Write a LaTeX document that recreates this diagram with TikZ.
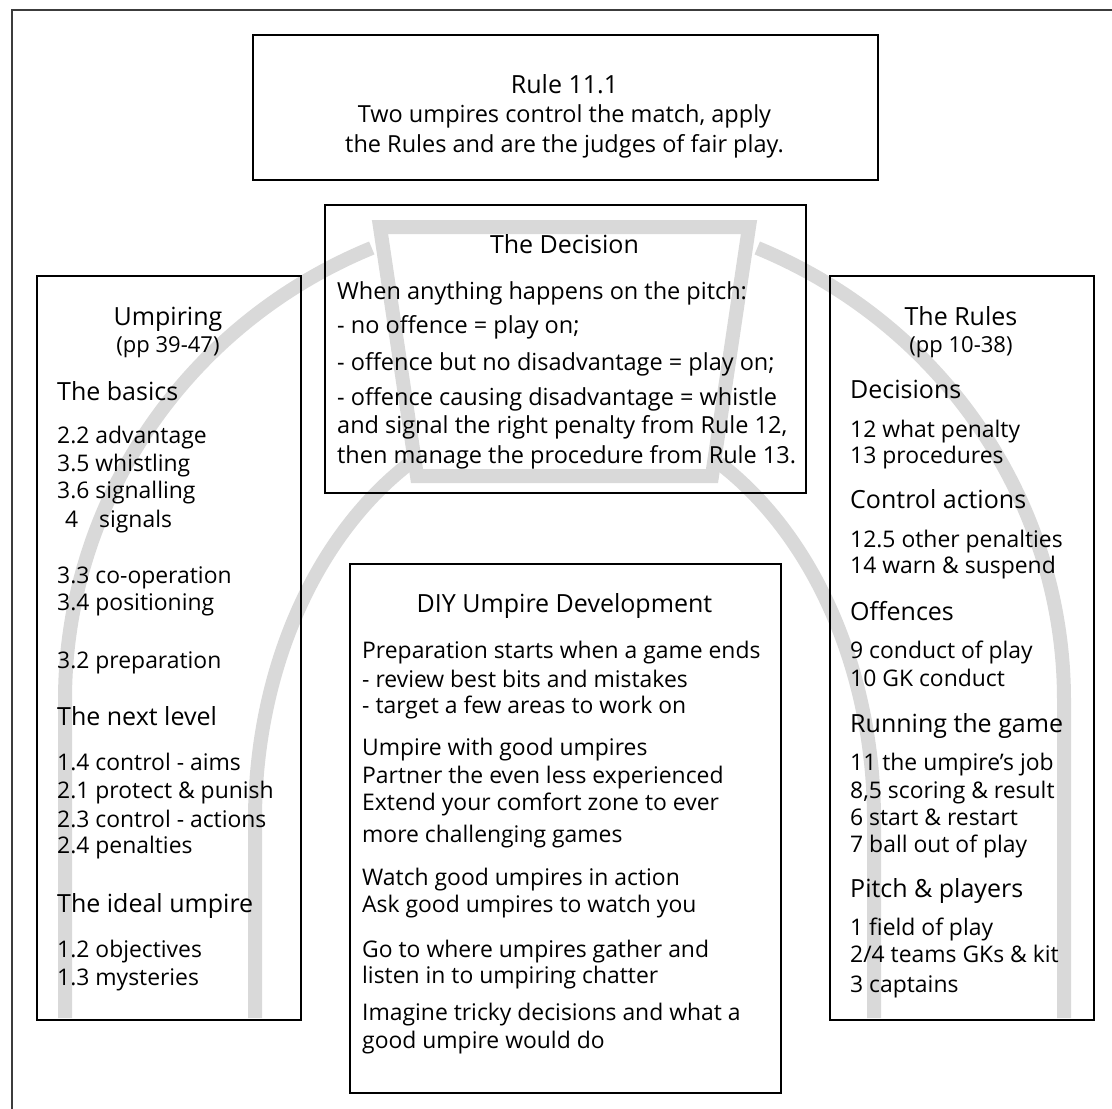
\documentclass[tikz,border=0pt]{standalone}
\usepackage{fontspec}
\setmainfont{Open Sans}
\definecolor{archgray}{RGB}{217,217,217}
\definecolor{framegray}{RGB}{60,60,60}
\newcommand\HeadF{\fontsize{25}{30}\selectfont}
\newcommand\BodyF{\fontsize{23.5}{28}\selectfont}
\newcommand\ItemF{\fontsize{22.9}{27}\selectfont}
\newcommand\PageF{\fontsize{22}{26}\selectfont}
\begin{document}
\begin{tikzpicture}[x=1pt,y=-1pt,
  box/.style={draw=black, line width=1.8pt, inner sep=0pt, anchor=north west},
  archline/.style={draw=archgray, line width=14pt},
  headc/.style={anchor=base, inner sep=0pt, font=\HeadF},
  headl/.style={anchor=base west, inner sep=0pt, font=\HeadF},
  bodyc/.style={anchor=base, inner sep=0pt, font=\BodyF},
  bodyl/.style={anchor=base west, inner sep=0pt, font=\BodyF},
  iteml/.style={anchor=base west, inner sep=0pt, font=\ItemF},
  pagec/.style={anchor=base, inner sep=0pt, font=\PageF}]
\useasboundingbox (0,0) rectangle (1112,1109);
% outer frame (cropped at right and bottom)
\coordinate (fbl) at (12,1109);
\coordinate (ftl) at (12,10);
\coordinate (ftr) at (1112,10);
\draw[framegray, line width=1.8pt] (fbl) -- (ftl) -- (ftr);
% the arch
\draw[archline] (65,1018) -- (65,700) arc[start angle=180, end angle=247.3, x radius=499.5, y radius=490];
\draw[archline] (1064,1018) -- (1064,700) arc[start angle=0, end angle=-67.3, x radius=499.5, y radius=490];
\draw[archline] (255,1018) -- (255,820) arc[start angle=180, end angle=240, x radius=309.5, y radius=412];
\draw[archline] (874,1018) -- (874,820) arc[start angle=0, end angle=-60, x radius=309.5, y radius=412];
\draw[archline, line join=miter] (380,227) -- (749,227) -- (712,476) -- (417,476) -- cycle;
% boxes
\node[box, minimum width=625pt, minimum height=145pt] (rule) at (252,34) {};
\node[box, minimum width=481pt, minimum height=288pt] (decision) at (324,204) {};
\node[box, minimum width=264pt, minimum height=744pt] (umpiring) at (36,275) {};
\node[box, minimum width=264pt, minimum height=744pt] (rules) at (829,275) {};
\node[box, minimum width=431pt, minimum height=529pt] (diy) at (349,563) {};
% Rule 11.1
\node[headc] (r1) at (564.5,93) {Rule 11.1};
\node[bodyc] (r2) at (564.5,122) {Two umpires control the match, apply};
\node[bodyc] (r3) at (564.5,152) {the Rules and are the judges of fair play.};
% The Decision
\node[headc] (d0) at (564.5,253) {The Decision};
\node[bodyl] (d1) at (337,299) {When anything happens on the pitch:};
\node[bodyl] (d2) at (337,333) {- no offence = play on;};
\node[bodyl] (d3) at (337,370) {- offence but no disadvantage = play on;};
\node[bodyl] (d4) at (337,405) {- offence causing disadvantage = whistle};
\node[bodyl] (d5) at (337,433) {and signal the right penalty from Rule 12,};
\node[bodyl] (d6) at (337,463) {then manage the procedure from Rule 13.};
% Umpiring
\node[headc] (u0) at (168,325) {Umpiring};
\node[pagec] (u0p) at (168,352) {(pp 39-47)};
\node[headl] (u1) at (57,400) {The basics};
\node[iteml] (u2) at (57,443) {2.2 advantage};
\node[iteml] (u3) at (57,471) {3.5 whistling};
\node[iteml] (u4) at (57,498) {3.6 signalling};
\node[iteml] (u5n) at (65,527) {4};
\node[iteml] (u5) at (99,527) {signals};
\node[iteml] (u6) at (57,583) {3.3 co-operation};
\node[iteml] (u7) at (57,610) {3.4 positioning};
\node[iteml] (u8) at (57,668) {3.2 preparation};
\node[headl] (u9) at (57,725) {The next level};
\node[iteml] (u10) at (57,770) {1.4 control - aims};
\node[iteml] (u11) at (57,798) {2.1 protect \& punish};
\node[iteml] (u12) at (57,827) {2.3 control - actions};
\node[iteml] (u13) at (57,853) {2.4 penalties};
\node[headl] (u14) at (57,912) {The ideal umpire};
\node[iteml] (u15) at (57,957) {1.2 objectives};
\node[iteml] (u16) at (57,985) {1.3 mysteries};
% The Rules
\node[headc] (q0) at (961,325) {The Rules};
\node[pagec] (q0p) at (961,352) {(pp 10-38)};
\node[headl] (q1) at (850,398) {Decisions};
\node[iteml] (q2) at (850,437) {12 what penalty};
\node[iteml] (q3) at (850,463) {13 procedures};
\node[headl] (q4) at (850,508) {Control actions};
\node[iteml] (q5) at (850,547) {12.5 other penalties};
\node[iteml] (q6) at (850,573) {14 warn \& suspend};
\node[headl] (q7) at (850,620) {Offences};
\node[iteml] (q8) at (850,658) {9 conduct of play};
\node[iteml] (q9) at (850,686) {10 GK conduct};
\node[headl] (q10) at (850,732) {Running the game};
\node[iteml] (q11) at (850,770) {11 the umpire’s job};
\node[iteml] (q12) at (850,798) {8,5 scoring \& result};
\node[iteml] (q13) at (850,825) {6 start \& restart};
\node[iteml] (q14) at (850,852) {7 ball out of play};
\node[headl] (q15) at (850,897) {Pitch \& players};
\node[iteml] (q16) at (850,935) {1 field of play};
\node[iteml] (q17) at (850,962) {2/4 teams GKs \& kit};
\node[iteml] (q18) at (850,992) {3 captains};
% DIY Umpire Development
\node[headc] (v0) at (564.5,612) {DIY Umpire Development};
\node[iteml] (v1) at (362,658) {Preparation starts when a game ends};
\node[iteml] (v2) at (362,687) {- review best bits and mistakes};
\node[iteml] (v3) at (362,713) {- target a few areas to work on};
\node[iteml] (v4) at (362,755) {Umpire with good umpires};
\node[iteml] (v5) at (362,783) {Partner the even less experienced};
\node[iteml] (v6) at (362,810) {Extend your comfort zone to ever};
\node[iteml] (v7) at (362,842) {more challenging games};
\node[iteml] (v8) at (362,885) {Watch good umpires in action};
\node[iteml] (v9) at (362,912) {Ask good umpires to watch you};
\node[iteml] (v10) at (362,957) {Go to where umpires gather and};
\node[iteml] (v11) at (362,983) {listen in to umpiring chatter};
\node[iteml] (v12) at (362,1020) {Imagine tricky decisions and what a};
\node[iteml] (v13) at (362,1048) {good umpire would do};
\end{tikzpicture}
\end{document}
